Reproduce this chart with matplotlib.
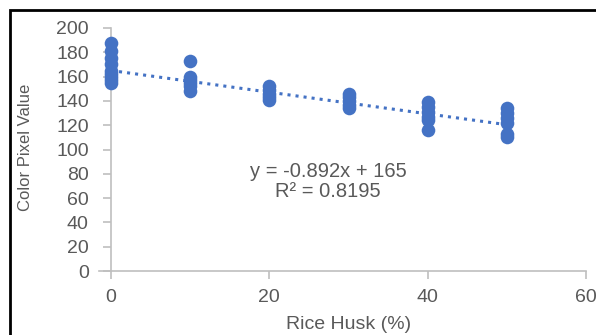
import matplotlib.pyplot as plt
import numpy as np
from matplotlib.patches import Rectangle

# Datos
cascarilla = [0, 10, 20, 30, 40, 50]
valores = [
    [188, 181, 175, 170, 165, 162, 160, 157, 155],
    [173, 160, 157, 155, 152, 148],
    [152, 149, 146, 143, 141],
    [146, 143, 140, 137, 134],
    [139, 135, 131, 127, 124, 116],
    [134, 130, 126, 122, 113, 110],
]
pendiente = -0.892
intercepto = 165
ecuacion = "y = -0.892x + 165\nR² = 0.8195"

azul = '#4472C4'
gris = '#595959'
plt.rcParams['font.family'] = ['Liberation Sans', 'DejaVu Sans']

fig = plt.figure(figsize=(5.96, 3.35), dpi=100)
ax = fig.add_axes([111/596, 1 - 271/335, 475/596, 243/335])

xs = []
ys = []
for x, grupo in zip(cascarilla, valores):
    xs += [x] * len(grupo)
    ys += grupo
ax.plot(xs, ys, 'o', color=azul, markersize=9.8, markeredgewidth=0, zorder=3,
        clip_on=False)

# Linea de tendencia
xt = np.array([cascarilla[0], cascarilla[-1]])
ax.plot(xt, pendiente * xt + intercepto, ':', color=azul, linewidth=2.2, zorder=2,
        clip_on=False)

ax.text(0.457, 0.368, ecuacion, transform=ax.transAxes, ha='center', va='center',
        fontsize=14.5, color=gris, linespacing=1.1)

ax.set_xlim(0, 60)
ax.set_ylim(0, 200)
ax.set_xticks([0, 20, 40, 60])
ax.set_yticks(range(0, 201, 20))
for s in ['top', 'right']:
    ax.spines[s].set_visible(False)
for s in ['left', 'bottom']:
    ax.spines[s].set_color('#BFBFBF')
    ax.spines[s].set_linewidth(1.2)
ax.spines['bottom'].set_bounds(-1.5, 60)
ax.tick_params(axis='y', colors='#BFBFBF', labelcolor=gris, labelsize=14,
               length=6, width=1.2, pad=10)
ax.tick_params(axis='x', colors='#BFBFBF', labelcolor=gris, labelsize=14,
               length=6, width=1.2, pad=7)
ax.set_xlabel('Rice Husk (%)', fontsize=14, color=gris, labelpad=7)
ax.set_ylabel('Color Pixel Value', fontsize=12, color=gris)
ax.yaxis.set_label_coords(-0.165, 0.508)

# Marco negro de la figura
fig.patches.append(Rectangle((9.5/596, -0.1), 1.2, 1 - 10/335 + 0.1,
                             transform=fig.transFigure, fill=False,
                             edgecolor='black', linewidth=2))

fig.savefig('out.png', dpi=100)
